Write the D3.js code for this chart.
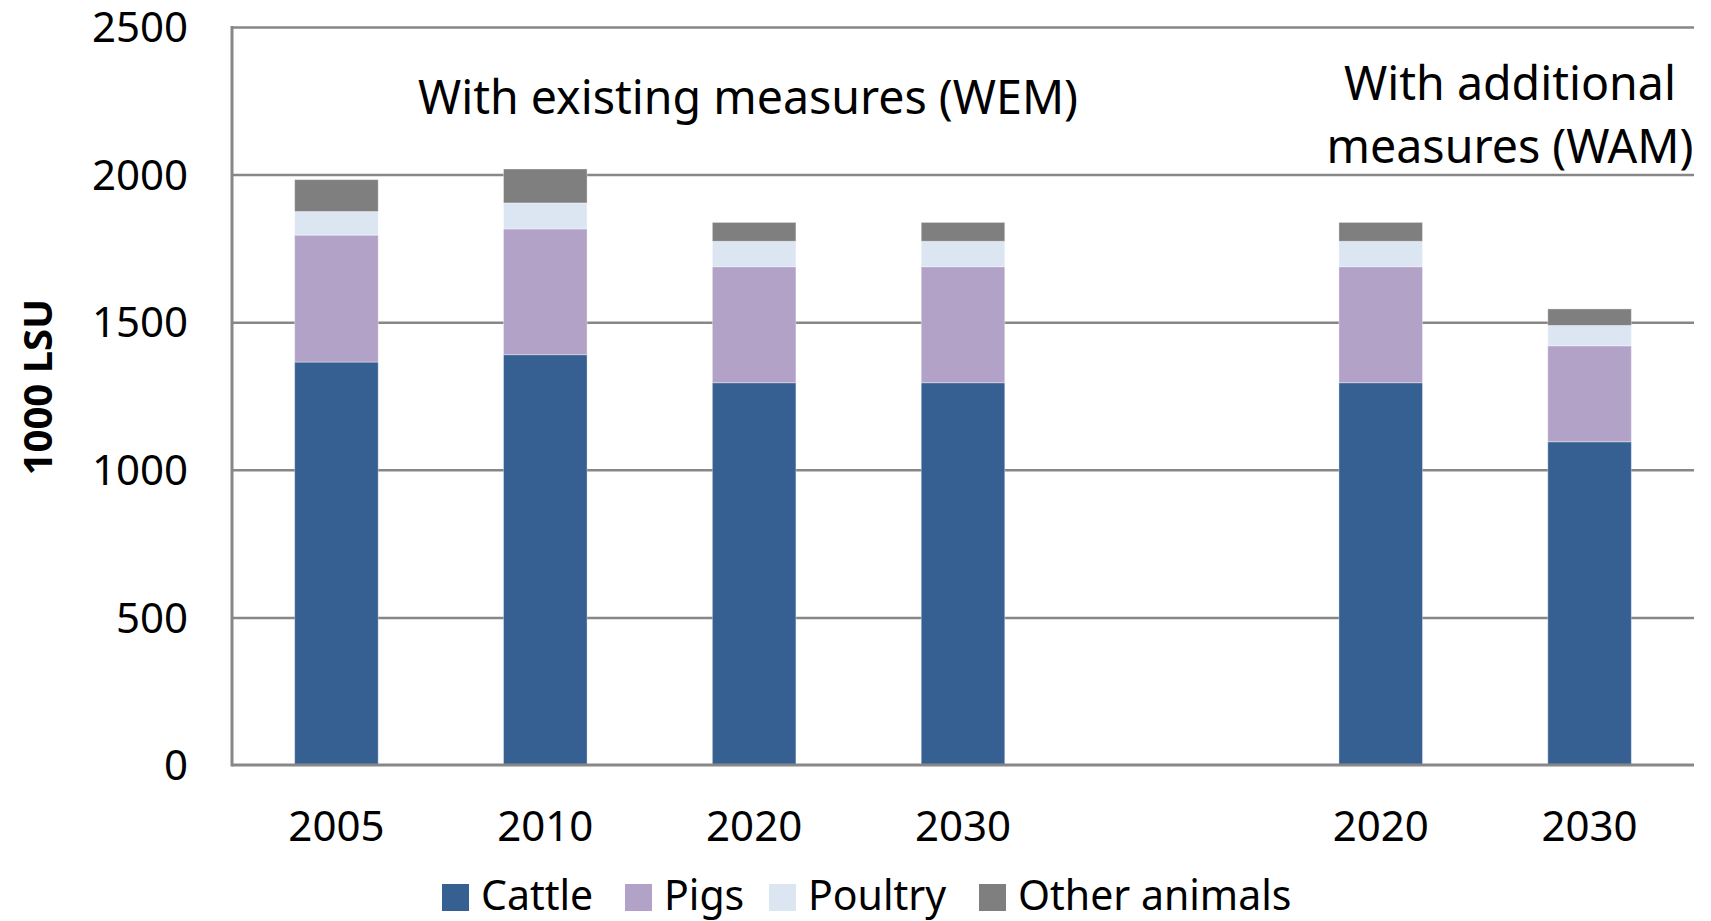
<!DOCTYPE html>
<html>
<head>
<meta charset="utf-8">
<script src="https://cdn.jsdelivr.net/npm/d3@7"></script>
<style>
 body { margin: 0; background: #fff; }
 text { font-family: "Noto Sans", "Open Sans", sans-serif; fill: #000; }
 .grid line { stroke: #878787; stroke-width: 2.5; }
 .axisLine { stroke: #878787; stroke-width: 3; }
</style>
</head>
<body>
<svg id="chart" width="1711" height="921"></svg>
<script>
 // categories (slot 4 is the empty gap between WEM and WAM)
 const slots = ['2005', '2010', '2020', '2030', '', '2020', '2030'];
 const series = ['Cattle', 'Pigs', 'Poultry', 'Other animals'];
 const colors = ['#376092', '#b3a2c7', '#dce6f2', '#7f7f7f'];

 // 1000 LSU
 const cattle  = [1365, 1390, 1295, 1295, null, 1295, 1095];
 const pigs    = [430, 426, 393, 393, null, 393, 325];
 const poultry = [80, 88, 86, 86, null, 86, 69];
 const other   = [108, 115, 64, 64, null, 64, 56];

 const yTicks = [0, 500, 1000, 1500, 2000, 2500];

 const rows = slots.map((s, i) => ({
   key: i, label: s,
   'Cattle': cattle[i], 'Pigs': pigs[i], 'Poultry': poultry[i], 'Other animals': other[i]
 })).filter(d => d.Cattle != null);

 const svg = d3.select('#chart');
 const mLeft = 232, mRight = 1694, mTop = 27, mBottom = 765;

 const x = d3.scaleBand()
   .domain(slots.map((s, i) => i))
   .range([mLeft, mRight])
   .paddingInner(0.6)
   .paddingOuter(0.3);

 const y = d3.scaleLinear().domain([0, 2500]).range([mBottom, mTop]);

 // gridlines
 svg.append('g')
   .attr('class', 'grid')
   .attr('transform', `translate(${mLeft},0)`)
   .call(d3.axisLeft(y).tickValues(yTicks.slice(1)).tickSize(-(mRight - mLeft)).tickFormat(''))
   .call(g => g.select('.domain').remove());

 // tick labels
 svg.append('g')
   .selectAll('text')
   .data(yTicks)
   .join('text')
   .attr('x', 188)
   .attr('y', d => y(d))
   .attr('dy', '0.36em')
   .attr('text-anchor', 'end')
   .attr('font-size', 42)
   .text(d => d);

 // stacked bars
 const stacked = d3.stack().keys(series)(rows);
 svg.append('g')
   .selectAll('g')
   .data(stacked)
   .join('g')
   .attr('fill', (d, i) => colors[i])
   .selectAll('rect')
   .data(d => d)
   .join('rect')
   .attr('x', d => x(d.data.key))
   .attr('width', x.bandwidth())
   .attr('y', d => y(d[1]))
   .attr('height', d => y(d[0]) - y(d[1]))
   .attr('stroke', 'rgba(255,255,255,0.35)')
   .attr('stroke-width', 1);

 // axes lines
 svg.append('line').attr('class', 'axisLine')
   .attr('x1', mLeft).attr('x2', mLeft).attr('y1', mTop - 1).attr('y2', mBottom + 1.5);
 svg.append('line').attr('class', 'axisLine')
   .attr('x1', mLeft).attr('x2', mRight).attr('y1', mBottom).attr('y2', mBottom);

 // x labels
 svg.append('g')
   .selectAll('text')
   .data(slots.map((s, i) => ({ i, s })))
   .join('text')
   .attr('x', d => x(d.i) + x.bandwidth() / 2)
   .attr('y', 841)
   .attr('text-anchor', 'middle')
   .attr('font-size', 42)
   .text(d => d.s);

 // y title
 svg.append('text')
   .attr('transform', 'translate(52,387) rotate(-90)')
   .attr('text-anchor', 'middle')
   .attr('font-size', 40)
   .attr('font-weight', 'bold')
   .text('1000 LSU');

 // scenario notes
 svg.append('text')
   .attr('x', 748).attr('y', 114)
   .attr('text-anchor', 'middle')
   .attr('font-size', 46.5)
   .text('With existing measures (WEM)');
 const wam = svg.append('text')
   .attr('text-anchor', 'middle')
   .attr('font-size', 46.5);
 wam.append('tspan').attr('x', 1510).attr('y', 100).text('With additional');
 wam.append('tspan').attr('x', 1510).attr('y', 163).text('measures (WAM)');

 // legend
 const legX = [442, 625, 769, 979];
 const leg = svg.append('g')
   .selectAll('g')
   .data(series)
   .join('g')
   .attr('transform', (d, i) => `translate(${legX[i]},884)`);
 leg.append('rect')
   .attr('width', 27).attr('height', 27)
   .attr('fill', (d, i) => colors[i]);
 leg.append('text')
   .attr('x', 39).attr('y', 26)
   .attr('font-size', 41)
   .text(d => d);
</script>
</body>
</html>
